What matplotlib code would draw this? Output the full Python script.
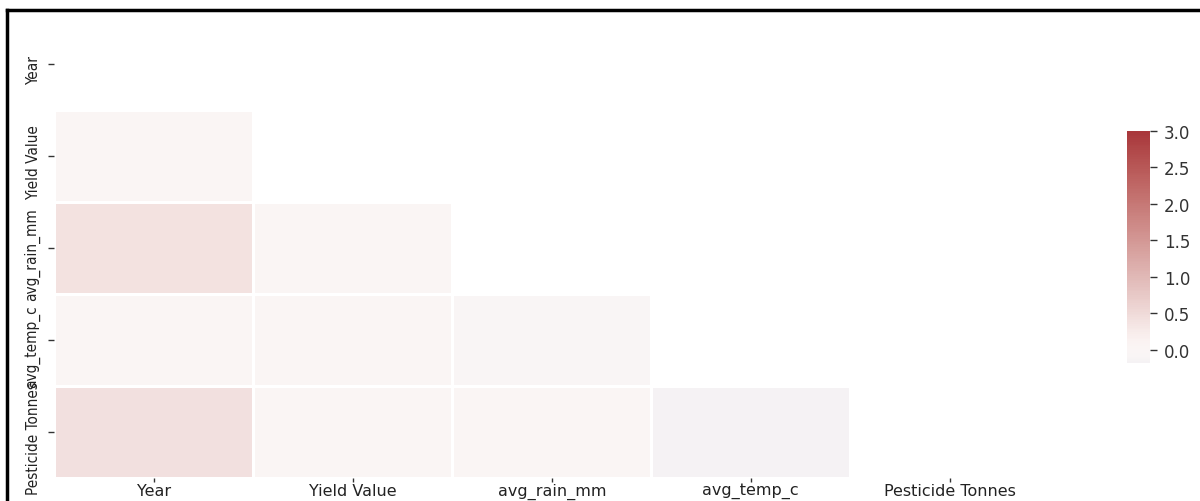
import numpy as np
import pandas as pd
import seaborn as sns
import matplotlib
matplotlib.use("Agg")
import matplotlib.pyplot as plt
from matplotlib.lines import Line2D
from matplotlib import font_manager
from matplotlib.transforms import ScaledTranslation

# Variables in the correlation matrix
columns = ["Year", "Yield Value", "avg_rain_mm", "avg_temp_c", "Pesticide Tonnes"]

# Lower-triangle correlation values, one list per row (row i holds columns 0..i-1)
row_year = []
row_yield = [0.03]
row_rain = [0.40, 0.03]
row_temp = [0.02, 0.03, -0.06]
row_pest = [0.42, 0.03, 0.02, -0.18]

rows = [row_year, row_yield, row_rain, row_temp, row_pest]
n = len(columns)
corr = np.eye(n)
for i, vals in enumerate(rows):
    for j, v in enumerate(vals):
        corr[i, j] = v
        corr[j, i] = v
corr = pd.DataFrame(corr, index=columns, columns=columns)

mask = np.triu(np.ones_like(corr, dtype=bool))

fig = plt.figure(figsize=(12, 5.02), dpi=100)
ax = fig.add_axes([0.0454, 0.046, 0.8288, 0.9171])
cax = fig.add_axes([0.9392, 0.2749, 0.0192, 0.4622])

sns.heatmap(corr, mask=mask, cmap="vlag", vmax=3, center=0,
            linewidths=1.8, linecolor="white", ax=ax, cbar_ax=cax)
ax.set_aspect("auto")

ax.tick_params(axis="x", length=3, width=1, color="#333333", pad=0.5)
ax.tick_params(axis="y", length=4, width=1, color="#333333", pad=6)
for lab in ax.get_xticklabels():
    lab.set_fontsize(11.5)
    lab.set_color("#222222")
    lab.set_rotation(0)

# Narrow face for the rotated row labels, nudged slightly downward
narrow = font_manager.FontProperties(family="DejaVu Sans", stretch="condensed", size=11)
shift = ScaledTranslation(0, -6 / 100, fig.dpi_scale_trans)
for lab in ax.get_yticklabels():
    lab.set_fontproperties(narrow)
    lab.set_color("#222222")
    lab.set_rotation(90)
    lab.set_va("center")
    lab.set_transform(lab.get_transform() + shift)

cax.tick_params(length=5, width=1, color="#333333", labelsize=12, labelcolor="#333333", pad=5)
cax.set_yticks([0.0, 0.5, 1.0, 1.5, 2.0, 2.5, 3.0])

# Black frame along the top and left edges of the figure
fig.add_artist(Line2D([7 / 1200, 1.0], [1 - 11 / 502, 1 - 11 / 502],
                      transform=fig.transFigure, color="black", lw=2.5))
fig.add_artist(Line2D([7 / 1200, 7 / 1200], [0.0, 1 - 11 / 502],
                      transform=fig.transFigure, color="black", lw=2.5))

fig.savefig("out.png", dpi=100)
